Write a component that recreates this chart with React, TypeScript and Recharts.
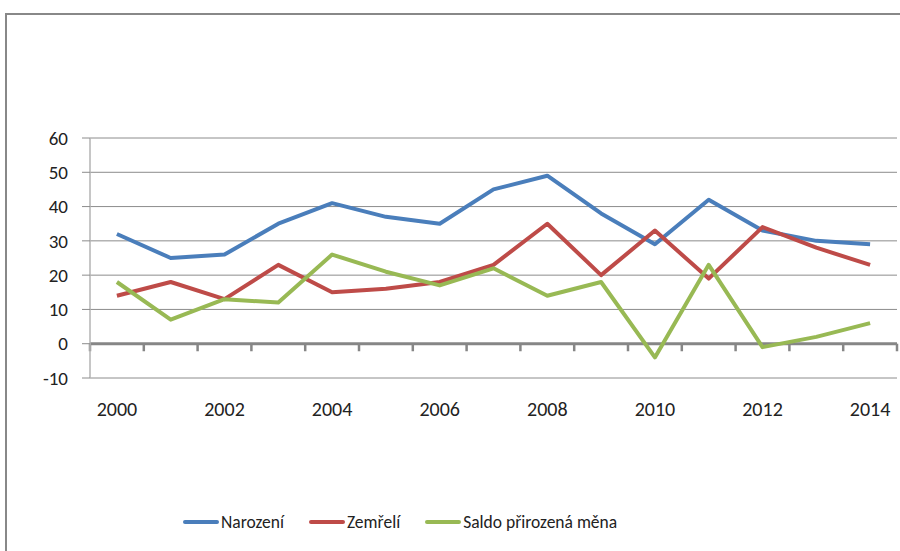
import React from 'react';
import { LineChart, Line, XAxis, YAxis, CartesianGrid, ReferenceLine, Legend } from 'recharts';

const years = [2000, 2001, 2002, 2003, 2004, 2005, 2006, 2007, 2008, 2009, 2010, 2011, 2012, 2013, 2014];
const narozeni = [32, 25, 26, 35, 41, 37, 35, 45, 49, 38, 29, 42, 33, 30, 29];
const zemreli = [14, 18, 13, 23, 15, 16, 18, 23, 35, 20, 33, 19, 34, 28, 23];
const saldo = [18, 7, 13, 12, 26, 21, 17, 22, 14, 18, -4, 23, -1, 2, 6];
const seriesNames = ['Narození', 'Zemřelí', 'Saldo přirozená měna'];
const xTickLabels = [2000, 2002, 2004, 2006, 2008, 2010, 2012, 2014];
const yTicks = [-10, 0, 10, 20, 30, 40, 50, 60];

const data = years.map((y, i) => ({
  year: y,
  narozeni: narozeni[i],
  zemreli: zemreli[i],
  saldo: saldo[i],
}));

const bounds = [years[0] - 0.5, ...years.map((y) => y + 0.5)];
const TICK_DROP = -2.2;
const FONT = 'Carlito, Lato, sans-serif';

const renderLegend = (props: any) => {
  const payload = [...(props.payload || [])].sort(
    (a: any, b: any) => seriesNames.indexOf(a.value) - seriesNames.indexOf(b.value)
  );
  return (
    <div style={{ display: 'flex', alignItems: 'center', fontFamily: FONT, fontSize: 17.5, color: '#222', whiteSpace: 'nowrap' }}>
      {payload.map((p: any) => (
        <div key={p.value} style={{ display: 'flex', alignItems: 'center', marginRight: 25 }}>
          <span style={{ display: 'inline-block', width: 36, height: 4, borderRadius: 2, background: p.color, marginRight: 2 }} />
          <span>{p.value}</span>
        </div>
      ))}
    </div>
  );
};

export default function App() {
  return (
    <div style={{ position: 'absolute', left: 0, top: 0, width: 900, height: 551, overflow: 'hidden', background: '#fff' }}>
      <div style={{ position: 'absolute', left: 5, top: 13, width: 1000, height: 1000, borderTop: '2px solid #888', borderLeft: '2px solid #888' }} />
      <div style={{ position: 'absolute', left: 0, top: 0 }}>
        <LineChart width={900} height={551} data={data} margin={{ top: 138, right: 3, left: 0, bottom: 133 }}>
          <CartesianGrid horizontal vertical={false} stroke="#8c8c8c" strokeWidth={1} />
          <XAxis
            type="number"
            dataKey="year"
            domain={[years[0] - 0.5, years[years.length - 1] + 0.5]}
            ticks={xTickLabels}
            interval={0}
            axisLine={false}
            tickLine={false}
            tickSize={0}
            tickMargin={24}
            height={40}
            allowDecimals
            tick={{ fill: '#222', fontSize: 20, fontFamily: FONT }}
          />
          <YAxis
            type="number"
            domain={[-10, 60]}
            ticks={yTicks}
            interval={0}
            width={90}
            tickSize={8}
            tickMargin={14}
            axisLine={{ stroke: '#b3b3b3', strokeWidth: 1.5 }}
            tickLine={{ stroke: '#8c8c8c' }}
            tick={{ fill: '#222', fontSize: 19, fontFamily: FONT }}
          />
          <ReferenceLine y={0} stroke="#868686" strokeWidth={3} />
          {bounds.map((b) => (
            <ReferenceLine key={b} segment={[{ x: b, y: 0 }, { x: b, y: TICK_DROP }]} stroke="#868686" strokeWidth={2.5} ifOverflow="visible" />
          ))}
          <Line type="linear" dataKey="narozeni" name={seriesNames[0]} stroke="#4a7ebb" strokeWidth={4} dot={false} isAnimationActive={false} strokeLinejoin="round" />
          <Line type="linear" dataKey="zemreli" name={seriesNames[1]} stroke="#be4b48" strokeWidth={4} dot={false} isAnimationActive={false} strokeLinejoin="round" />
          <Line type="linear" dataKey="saldo" name={seriesNames[2]} stroke="#98b954" strokeWidth={4} dot={false} isAnimationActive={false} strokeLinejoin="round" />
          <Legend
            layout="horizontal"
            verticalAlign="middle"
            align="center"
            content={renderLegend}
            wrapperStyle={{ top: 511, left: 183, width: 'auto' }}
          />
        </LineChart>
      </div>
    </div>
  );
}
